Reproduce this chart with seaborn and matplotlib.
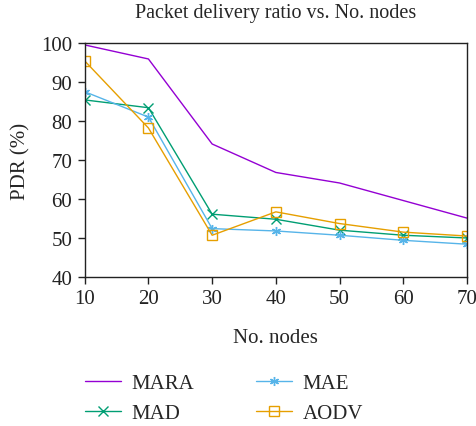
import matplotlib
matplotlib.use("Agg")
import matplotlib.pyplot as plt
import seaborn as sns
import pandas as pd

nodes = [10, 20, 30, 40, 50, 60, 70]
mara = [99.5, 95.9, 74.1, 66.8, 64.1, 59.6, 55.1]
mad = [85.4, 83.4, 56.1, 54.8, 52.0, 50.7, 50.0]
mae = [87.5, 81.0, 52.4, 51.8, 50.7, 49.4, 48.4]
aodv = [95.4, 78.2, 50.7, 56.7, 53.7, 51.5, 50.5]

series_names = ["MARA", "MAD", "MAE", "AODV"]
colors = ["#9400D3", "#009E73", "#56B4E9", "#E69F00"]
markers = ["", "x", (6, 2, 0), "s"]

sns.set_style("ticks")
plt.rcParams["font.family"] = ["Liberation Serif", "DejaVu Serif"]

df = pd.DataFrame({
    "nodes": nodes * 4,
    "pdr": mara + mad + mae + aodv,
    "series": sum([[n] * len(nodes) for n in series_names], []),
})

fig = plt.figure(figsize=(4.76, 4.27), dpi=100)
ax = fig.add_axes([0.178, 0.349, 0.803, 0.548])

for name, col, mk in zip(series_names, colors, markers):
    sub = df[df["series"] == name]
    kw = dict(marker=mk, markersize=6.5, markerfacecolor="none", markeredgecolor=col,
              markeredgewidth=1.0) if mk else {}
    sns.lineplot(data=sub, x="nodes", y="pdr", ax=ax, color=col, linewidth=1.0,
                 label=name, **kw)

ax.set_xlim(10, 70)
ax.set_ylim(40, 100)
ax.set_xticks(nodes)
ax.set_yticks(range(40, 101, 10))
for s in ax.spines.values():
    s.set_visible(True)
    s.set_linewidth(1.0)
    s.set_color("#222222")
ax.tick_params(direction="out", length=5, width=1.0, labelsize=15, colors="#222222",
               pad=4)
ax.set_xlabel("No. nodes", fontsize=15, labelpad=14)
ax.set_ylabel("PDR (%)", fontsize=15, labelpad=8)
ax.set_title("Packet delivery ratio vs. No. nodes", fontsize=14.5, pad=19)

leg = ax.legend(loc="upper left", bbox_to_anchor=(0.14, 0.166),
                bbox_transform=fig.transFigure, ncol=2, frameon=False,
                fontsize=15, handlelength=1.7, columnspacing=3.0, labelspacing=0.5,
                handletextpad=0.5)

fig.savefig("out.png", dpi=100)
